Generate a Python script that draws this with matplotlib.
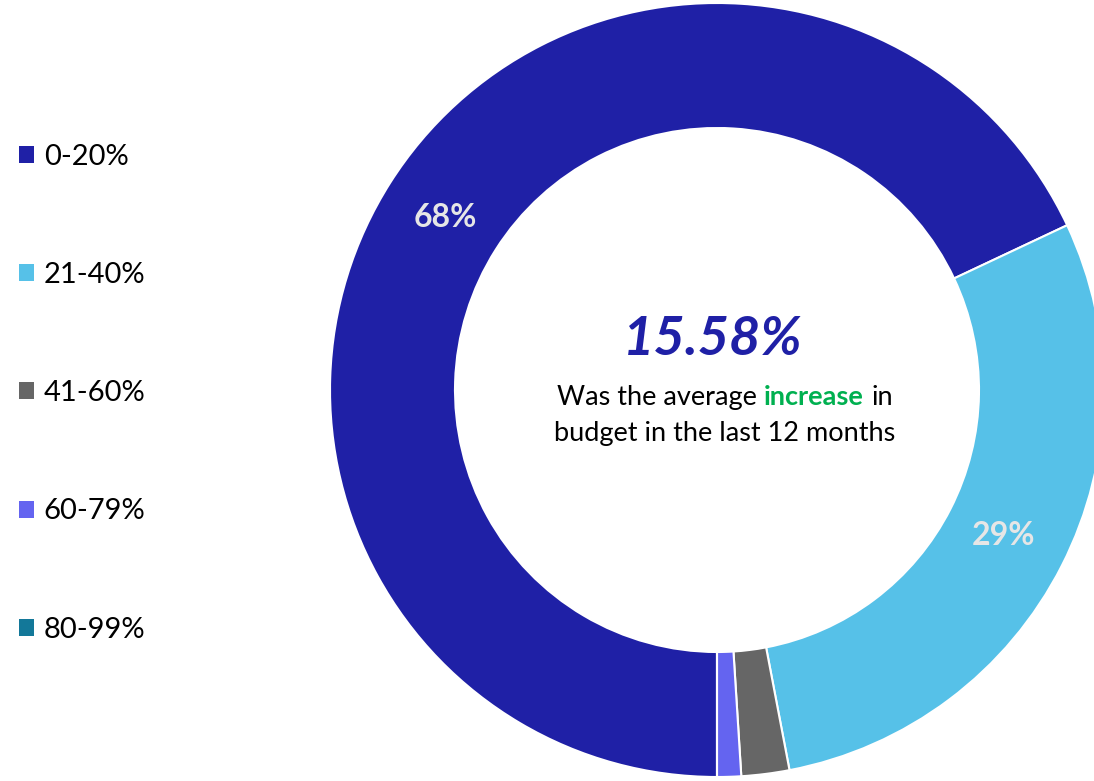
import matplotlib
matplotlib.use("Agg")
import matplotlib.pyplot as plt
from matplotlib.offsetbox import TextArea, HPacker, AnnotationBbox

# budget increase buckets and share of respondents (%)
buckets = ["0-20%", "21-40%", "41-60%", "60-79%", "80-99%"]
shares = [68, 29, 2, 1, 0]
colors = ["#1F20A6", "#56C1E8", "#666666", "#6464F0", "#137899"]

avg_increase = "15.58%"

W, H = 1094, 781
cx, cy = 717, 390          # ring centre in pixels
r_out, r_in = 387, 262

fig = plt.figure(figsize=(W / 100, H / 100), dpi=100)
ax = fig.add_axes([0, 0, 1, 1])
ax.set_aspect("equal")
ax.axis("off")


def pct_label(p):
    return f"{p:.0f}%" if p >= 5 else ""


wedges, _, autotexts = ax.pie(
    shares, colors=colors, radius=r_out, startangle=-90, counterclock=False,
    autopct=pct_label, pctdistance=0.83,
    wedgeprops=dict(width=r_out - r_in, edgecolor="white", linewidth=1.5),
    textprops=dict(color="#E6E6E6", fontsize=23, fontweight="bold",
                   family="Lato"),
)
ax.set_xlim(-cx, W - cx)
ax.set_ylim(-(H - cy), cy)

ax.text(-4, 51, avg_increase, ha="center", va="center", fontsize=39,
        fontweight="bold", fontstyle="italic", color="#1F20A6", family="Lato")

body = dict(fontsize=19.5, color="black", family="Lato")
line1 = HPacker(children=[
    TextArea("Was the average", textprops=body),
    TextArea("increase", textprops=dict(body, color="#00B050",
                                         fontweight="bold")),
    TextArea("in", textprops=body),
], sep=5.5, pad=0, align="baseline")
ax.add_artist(AnnotationBbox(line1, (8, -7), frameon=False,
                             box_alignment=(0.5, 0.5)))
ax.text(8, -43, "budget in the last 12 months", ha="center", va="center",
        **body)

leg = ax.legend(
    wedges, buckets, loc="center left", bbox_to_anchor=(19 / W, 0.4965),
    bbox_transform=fig.transFigure, frameon=False, borderpad=0,
    borderaxespad=0, handlelength=0.52, handleheight=0.52,
    handletextpad=0.33, labelspacing=3.16,
    prop=dict(family="Lato", size=21),
)
for h in leg.legend_handles:
    h.set_edgecolor("none")

fig.savefig("out.png", dpi=100)
